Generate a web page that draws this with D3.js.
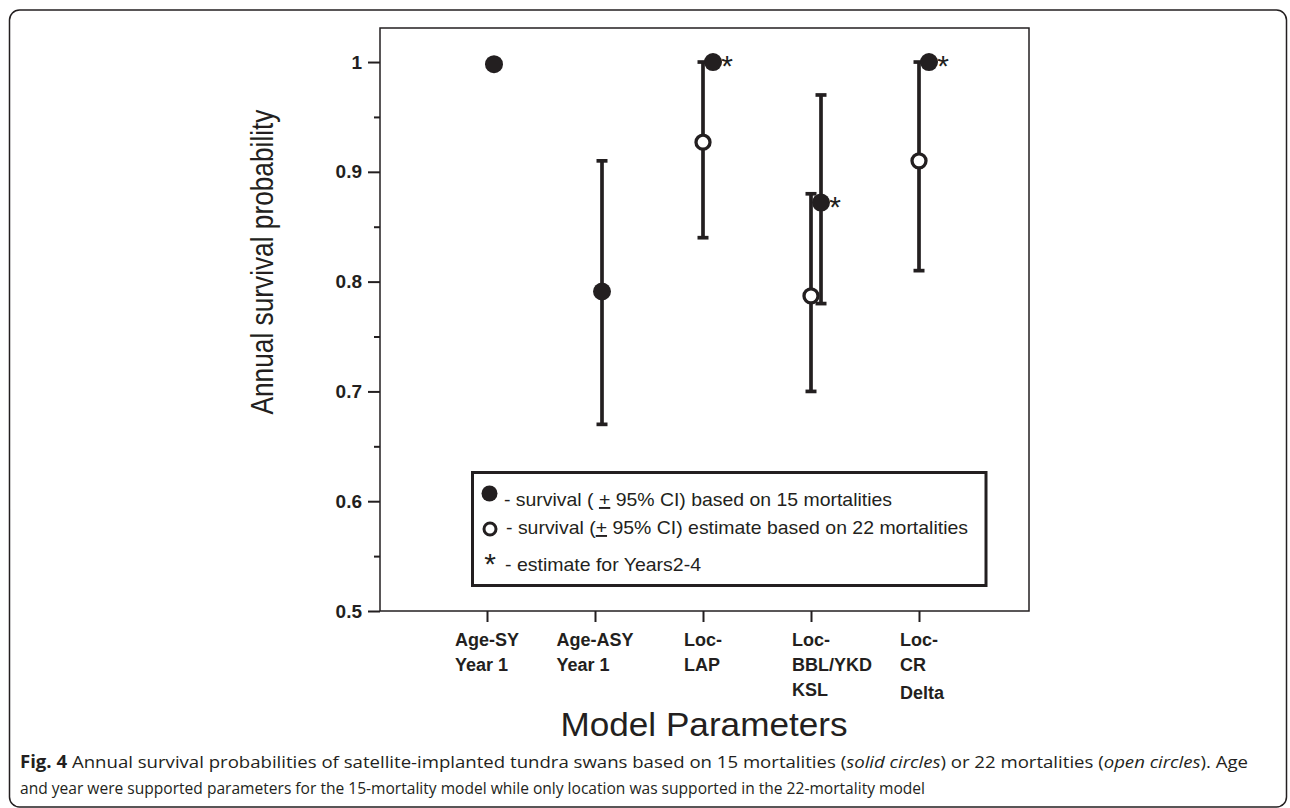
<!DOCTYPE html>
<html>
<head>
<meta charset="utf-8">
<script src="https://cdn.jsdelivr.net/npm/d3@7"></script>
<style>
body { margin: 0; background: #fff; }
text { font-family: "Liberation Sans", Arial, sans-serif; fill: #231f20; }
</style>
</head>
<body>
<div id="chart"></div>
<script>
// categories and tick labels
const categories = ["Age-SY Year 1", "Age-ASY Year 1", "Loc-LAP", "Loc-BBL/YKD KSL", "Loc-CR Delta"];
const tickLabels = [["Age-SY", "Year 1"], ["Age-ASY", "Year 1"], ["Loc-", "LAP"], ["Loc-", "BBL/YKD", "KSL"], ["Loc-", "CR", "Delta"]];
const yTicks = [0.5, 0.6, 0.7, 0.8, 0.9, 1];
const yMinorTicks = [0.55, 0.65, 0.75, 0.85, 0.95];

// 15 mortalities (solid circles)
const solidEst = [0.998, 0.791, 1.0, 0.872, 1.0];
const solidLow = [null, 0.67, null, 0.78, null];
const solidHigh = [null, 0.91, null, 0.97, null];
const solidYears24 = [false, false, true, true, true];

// 22 mortalities (open circles)
const openEst = [null, null, 0.927, 0.787, 0.91];
const openLow = [null, null, 0.84, 0.70, 0.81];
const openHigh = [null, null, 1.0, 0.88, 1.0];

const ink = "#231f20";
const width = 1290, height = 808;
const box = {left: 380, right: 1029, top: 28, bottom: 611};

const svg = d3.select("#chart")
  .append("svg")
  .attr("width", width)
  .attr("height", height);

// outer figure frame
svg.append("rect")
  .attr("x", 9.5).attr("y", 10)
  .attr("width", 1277).attr("height", 797)
  .attr("rx", 10)
  .attr("fill", "none")
  .attr("stroke", ink)
  .attr("stroke-width", 1.5);

// scales
const x = d3.scalePoint()
  .domain(categories)
  .range([487, 919]);

const y = d3.scaleLinear()
  .domain([0.5, 1.031])
  .range([box.bottom, box.top]);

// Y axis
const yAxis = svg.append("g")
  .attr("transform", `translate(${box.left},0)`)
  .call(d3.axisLeft(y).tickValues(yTicks).tickSize(12).tickPadding(6)
    .tickFormat(d => d === 1 ? "1" : d3.format(".1f")(d)));
yAxis.select(".domain").remove();
yAxis.selectAll("line").attr("stroke", ink).attr("stroke-width", 2);
yAxis.selectAll("text")
  .attr("fill", ink)
  .style("font-size", "19px")
  .style("font-weight", "bold");

const yMinor = svg.append("g")
  .attr("transform", `translate(${box.left},0)`)
  .call(d3.axisLeft(y).tickValues(yMinorTicks).tickSize(6).tickFormat(""));
yMinor.select(".domain").remove();
yMinor.selectAll("line").attr("stroke", ink).attr("stroke-width", 2);

// X axis
const xAxis = svg.append("g")
  .attr("transform", `translate(0,${box.bottom})`)
  .call(d3.axisBottom(x).tickSize(11).tickFormat(""));
xAxis.select(".domain").remove();
xAxis.selectAll("line").attr("stroke", ink).attr("stroke-width", 2);

// plot frame
svg.append("rect")
  .attr("x", box.left).attr("y", box.top)
  .attr("width", box.right - box.left)
  .attr("height", box.bottom - box.top)
  .attr("fill", "none")
  .attr("stroke", ink)
  .attr("stroke-width", 1.5);

// multi-line category labels: first line centred on the tick, others left aligned with it
categories.forEach((c, i) => {
  const t = svg.append("text")
    .style("font-size", "18px")
    .style("font-weight", "bold");
  tickLabels[i].forEach((line, j) => {
    t.append("tspan")
      .attr("y", 646 + j * 25 + (line === "Delta" ? 3 : 0))
      .text(line);
  });
  const firstW = t.select("tspan").node().getComputedTextLength();
  t.selectAll("tspan").attr("x", x(c) - firstW / 2);
});

// error bars
const solidDx = i => openEst[i] == null ? 7 : 10;
const bars = [];
categories.forEach((c, i) => {
  if (solidLow[i] != null) bars.push({cx: x(c) + solidDx(i), lo: solidLow[i], hi: solidHigh[i]});
  if (openLow[i] != null) bars.push({cx: x(c), lo: openLow[i], hi: openHigh[i]});
});

const barG = svg.append("g").attr("stroke", ink).attr("stroke-width", 3.7);
barG.selectAll(".stem")
  .data(bars)
  .join("line")
  .attr("x1", d => d.cx).attr("x2", d => d.cx)
  .attr("y1", d => y(d.lo)).attr("y2", d => y(d.hi));
barG.selectAll(".cap")
  .data(bars.flatMap(d => [{cx: d.cx, v: d.lo}, {cx: d.cx, v: d.hi}]))
  .join("line")
  .attr("x1", d => d.cx - 5.5).attr("x2", d => d.cx + 5.5)
  .attr("y1", d => y(d.v)).attr("y2", d => y(d.v));

// open circles
const openPts = categories.map((c, i) => ({c, v: openEst[i]})).filter(d => d.v != null);
svg.selectAll(".open")
  .data(openPts)
  .join("circle")
  .attr("cx", d => x(d.c))
  .attr("cy", d => y(d.v))
  .attr("r", 7)
  .attr("fill", "#fff")
  .attr("stroke", ink)
  .attr("stroke-width", 3.3);

// solid circles
const solidPts = categories.map((c, i) => ({c, i, v: solidEst[i], star: solidYears24[i]}));
svg.selectAll(".solid")
  .data(solidPts)
  .join("circle")
  .attr("cx", d => x(d.c) + solidDx(d.i))
  .attr("cy", d => y(d.v))
  .attr("r", 9)
  .attr("fill", ink);

svg.selectAll(".star")
  .data(solidPts.filter(d => d.star))
  .join("text")
  .attr("x", d => x(d.c) + solidDx(d.i) + 14)
  .attr("y", d => y(d.v) + 14)
  .attr("text-anchor", "middle")
  .style("font-size", "30px")
  .text("*");

// legend
svg.append("rect")
  .attr("x", 472.5).attr("y", 472.5)
  .attr("width", 513.5).attr("height", 113)
  .attr("fill", "#fff")
  .attr("stroke", ink)
  .attr("stroke-width", 3);

svg.append("circle").attr("cx", 489.5).attr("cy", 493.5).attr("r", 8).attr("fill", ink);
const l1 = svg.append("text").attr("x", 504).attr("y", 506)
  .attr("textLength", 388).attr("lengthAdjust", "spacingAndGlyphs")
  .style("font-size", "19px");
l1.append("tspan").text("- survival ( ");
l1.append("tspan").style("text-decoration", "underline").text("+");
l1.append("tspan").text(" 95% CI) based on 15 mortalities");

svg.append("circle").attr("cx", 490).attr("cy", 529).attr("r", 6)
  .attr("fill", "#fff").attr("stroke", ink).attr("stroke-width", 3);
const l2 = svg.append("text").attr("x", 506).attr("y", 534)
  .attr("textLength", 462).attr("lengthAdjust", "spacingAndGlyphs")
  .style("font-size", "19px");
l2.append("tspan").text("- survival (");
l2.append("tspan").style("text-decoration", "underline").text("+");
l2.append("tspan").text(" 95% CI) estimate based on 22 mortalities");

svg.append("text").attr("x", 490).attr("y", 574)
  .attr("text-anchor", "middle").style("font-size", "30px").text("*");
svg.append("text").attr("x", 505).attr("y", 571)
  .attr("textLength", 196).attr("lengthAdjust", "spacingAndGlyphs")
  .style("font-size", "19px")
  .text("- estimate for Years2-4");

// axis titles
svg.append("text")
  .attr("transform", "translate(273,262) rotate(-90)")
  .attr("text-anchor", "middle")
  .attr("textLength", 305).attr("lengthAdjust", "spacingAndGlyphs")
  .style("font-size", "31px")
  .text("Annual survival probability");

svg.append("text")
  .attr("x", 704).attr("y", 736)
  .attr("text-anchor", "middle")
  .attr("textLength", 287).attr("lengthAdjust", "spacingAndGlyphs")
  .style("font-size", "34px")
  .text("Model Parameters");

// caption
const cap1 = svg.append("text").attr("x", 20).attr("y", 768)
  .attr("textLength", 1228).attr("lengthAdjust", "spacingAndGlyphs")
  .style("font-family", "'Open Sans', sans-serif").style("font-size", "17px");
cap1.append("tspan").style("font-weight", "bold").text("Fig. 4");
cap1.append("tspan").text(" Annual survival probabilities of satellite-implanted tundra swans based on 15 mortalities (");
cap1.append("tspan").style("font-style", "italic").text("solid circles");
cap1.append("tspan").text(") or 22 mortalities (");
cap1.append("tspan").style("font-style", "italic").text("open circles");
cap1.append("tspan").text("). Age");

svg.append("text").attr("x", 20).attr("y", 794)
  .attr("textLength", 905).attr("lengthAdjust", "spacingAndGlyphs")
  .style("font-family", "'Open Sans', sans-serif").style("font-size", "17px")
  .text("and year were supported parameters for the 15-mortality model while only location was supported in the 22-mortality model");
</script>
</body>
</html>
